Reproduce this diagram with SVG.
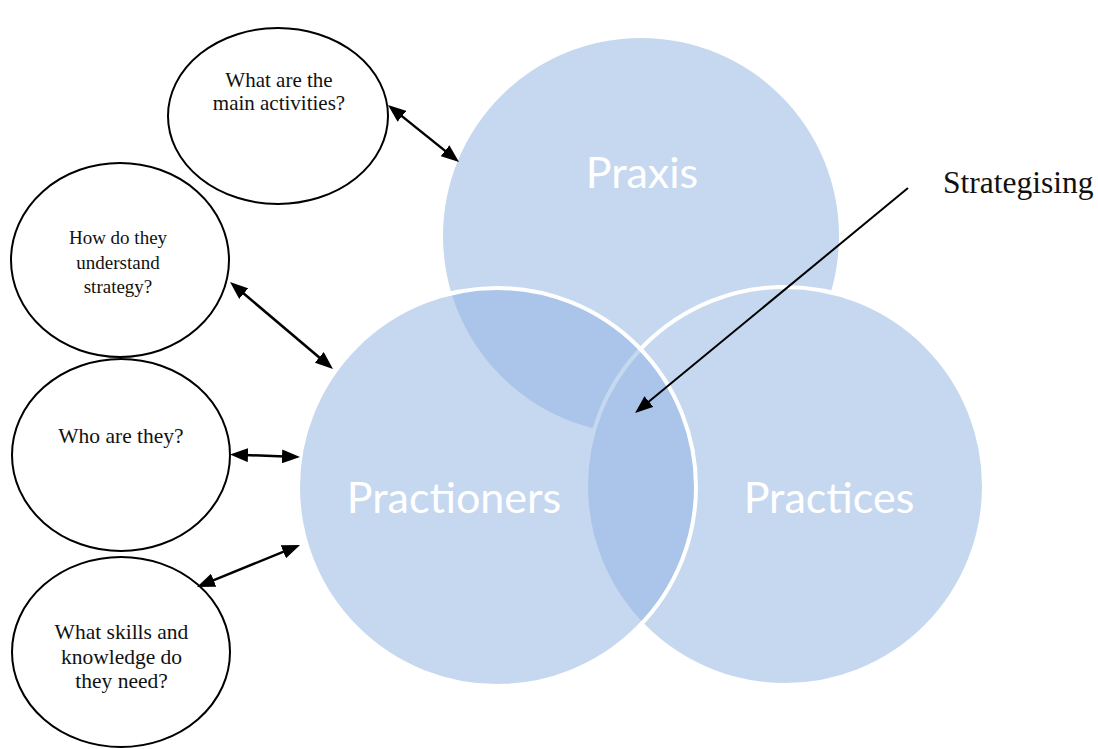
<svg xmlns="http://www.w3.org/2000/svg" width="1098" height="749" viewBox="0 0 1098 749">
  <style>
    .q { fill: #ffffff; stroke: #000000; stroke-width: 2; }
    .qt { font-family: "Liberation Serif", "Times New Roman", serif; fill: #111111; text-anchor: middle; }
    .big { font-family: Lato, "Open Sans", "Liberation Sans", sans-serif; font-size: 43px; fill: #ffffff; text-anchor: middle; }
    .link { stroke: #000000; stroke-width: 2.5; fill: none; marker-start: url(#head); marker-end: url(#head); }
    .pointer { stroke: #000000; stroke-width: 2; fill: none; marker-end: url(#head); }
  </style>
  <defs>
    <marker id="head" markerUnits="userSpaceOnUse" markerWidth="18" markerHeight="14" refX="9" refY="7" orient="auto-start-reverse">
      <path d="M0,0 L18,7 L0,14 Z" fill="#000000"/>
    </marker>
  </defs>
  <rect width="1098" height="749" fill="#ffffff"/>

  <!-- Venn of the three dimensions -->
  <g id="praxis">
    <circle cx="641" cy="236" r="198" fill="#c6d8f0"/>
    <text class="big" x="642" y="188">Praxis</text>
  </g>
  <g id="practices">
    <circle cx="785" cy="486" r="199" fill="#c6d8f0" stroke="#ffffff" stroke-width="4"/>
    <text class="big" x="829" y="513">Practices</text>
  </g>
  <g id="practioners">
    <circle cx="497" cy="487" r="199" fill="rgb(141,177,225)" fill-opacity="0.5" stroke="#ffffff" stroke-width="4"/>
    <text class="big" x="454" y="513">Practioners</text>
  </g>

  <!-- Question bubbles -->
  <g id="q-activities">
    <ellipse class="q" cx="278" cy="116" rx="110" ry="88"/>
    <text class="qt" font-size="21" x="279" y="87">What are the</text>
    <text class="qt" font-size="21" x="279" y="110">main activities?</text>
  </g>
  <g id="q-understand">
    <ellipse class="q" cx="120" cy="260" rx="109" ry="97"/>
    <text class="qt" font-size="19" x="118" y="244">How do they</text>
    <text class="qt" font-size="19" x="118" y="269">understand</text>
    <text class="qt" font-size="19" x="118" y="293">strategy?</text>
  </g>
  <g id="q-who">
    <ellipse class="q" cx="121" cy="455" rx="109" ry="96"/>
    <text class="qt" font-size="21.5" x="121" y="443">Who are they?</text>
  </g>
  <g id="q-skills">
    <ellipse class="q" cx="121" cy="652" rx="109" ry="95"/>
    <text class="qt" font-size="21.5" x="121.5" y="639">What skills and</text>
    <text class="qt" font-size="21.5" x="121.5" y="664">knowledge do</text>
    <text class="qt" font-size="21.5" x="121.5" y="688">they need?</text>
  </g>

  <g id="strategising">
    <text font-family="Liberation Serif, Times New Roman, serif" font-size="31.5" fill="#111111" x="943" y="193">Strategising</text>
  </g>

  <!-- Connectors -->
  <g id="connectors">
    <line class="link" x1="395" y1="110.6" x2="452" y2="156.4"/>
    <line class="link" x1="236.9" y1="287.8" x2="326.1" y2="363.2"/>
    <line class="link" x1="239" y1="454.8" x2="291" y2="456.7"/>
    <line class="link" x1="205.3" y1="583.6" x2="291.7" y2="548.4"/>
    <line class="pointer" x1="908" y1="188" x2="642" y2="407.3"/>
  </g>
</svg>
